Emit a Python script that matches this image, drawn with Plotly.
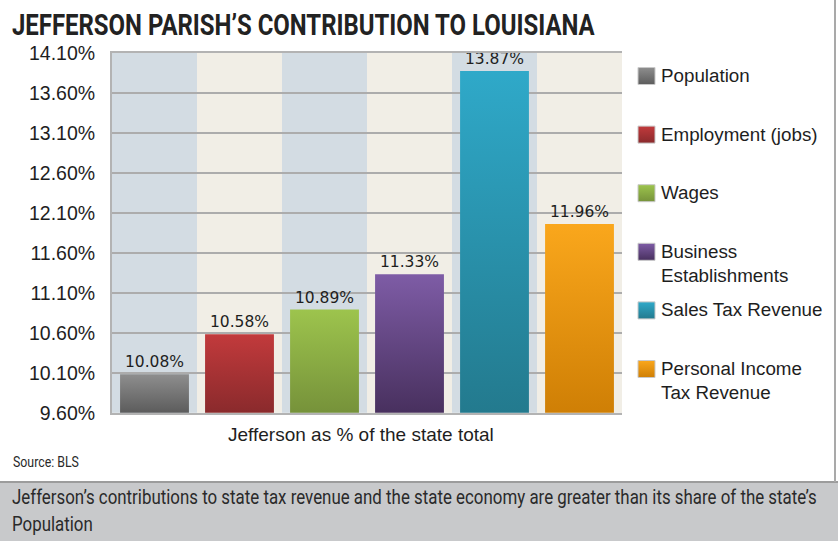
import json
import plotly.graph_objects as go

# Jefferson Parish as a share of the Louisiana state total (percent)
categories = ["Population", "Employment (jobs)", "Wages", "Business Establishments",
              "Sales Tax Revenue", "Personal Income Tax Revenue"]
legend_labels = ["Population", "Employment (jobs)", "Wages", "Business<br>Establishments",
                 "Sales Tax Revenue", "Personal Income<br>Tax Revenue"]
shares = [10.08, 10.58, 10.89, 11.33, 13.87, 11.96]
y_ticks = [9.60, 10.10, 10.60, 11.10, 11.60, 12.10, 12.60, 13.10, 13.60, 14.10]

# bar fills: flat colour plus the light-to-dark shading used on screen
bar_colors = ["#757575", "#a83234", "#8aad44", "#644784", "#2a92ad", "#e8950f"]
shade_top = ["#8e8e8e", "#c23a3c", "#9dc44d", "#7e5ca6", "#2fa9c9", "#faa71c"]
shade_bottom = ["#5c5c5c", "#8a2a2c", "#76923a", "#48305e", "#237a8e", "#cf7f05"]

W, H = 838, 541
GOTHIC = "Roboto, Liberation Sans, sans-serif"
PLAIN = "Liberation Sans, Arial, sans-serif"


def py(px):
    """Pixel row (from top) to paper y."""
    return 1 - px / H


def pxx(px):
    return px / W


fig = go.Figure()
positions = list(range(len(categories)))
fig.add_trace(go.Bar(
    x=positions,
    y=shares,
    width=0.81,
    marker=dict(color=bar_colors, line=dict(width=0)),
    text=shares,
    texttemplate="%{y:.2f}%",
    textposition="outside",
    textfont=dict(family="DejaVu Sans, Verdana, sans-serif", size=15.5, color="#1e1e1e"),
    cliponaxis=False,
    hovertext=categories,
    showlegend=False,
))

shapes = []
# alternating column bands behind the bars
for i in positions:
    shapes.append(dict(type="rect", xref="x", yref="y domain", x0=i - 0.5, x1=i + 0.5,
                       y0=0, y1=1, layer="below", line=dict(width=0),
                       fillcolor="#d3dce3" if i % 2 == 0 else "#f1eee6"))

# caption band and frame lines
shapes.append(dict(type="rect", xref="paper", yref="paper", x0=0, x1=1, y0=0, y1=py(482),
                   fillcolor="#c8c9cb", line=dict(width=0), layer="below"))
shapes.append(dict(type="line", xref="paper", yref="paper", x0=0, x1=1, y0=py(482), y1=py(482),
                   line=dict(color="#9c9c9c", width=2)))
shapes.append(dict(type="line", xref="paper", yref="paper", x0=pxx(835), x1=pxx(835),
                   y0=py(482), y1=1, line=dict(color="#a9a9a9", width=2)))

annotations = []
swatch_ids = []
# legend swatches and labels
for i, (lab, col) in enumerate(zip(legend_labels, bar_colors)):
    cy = 76 + 58.6 * i
    swatch_ids.append(len(shapes))
    shapes.append(dict(type="rect", xref="paper", yref="paper",
                       x0=pxx(638), x1=pxx(655), y0=py(cy + 8.5), y1=py(cy - 8.5),
                       fillcolor=col, line=dict(color="#c9c9c9", width=1)))
    annotations.append(dict(text=lab, xref="paper", yref="paper", x=pxx(659), y=py(cy - 13),
                            xanchor="left", yanchor="top", showarrow=False, align="left",
                            font=dict(family=PLAIN, size=18.8, color="#1e1e1e")))

n_legend = len(annotations)
annotations += [
    dict(text="JEFFERSON PARISH’S CONTRIBUTION TO LOUISIANA", xref="paper", yref="paper",
         x=pxx(10), y=py(24), xanchor="left", yanchor="middle", showarrow=False, align="left",
         font=dict(family=GOTHIC, size=30, color="#222222", weight="bold")),
    dict(text="Jefferson as % of the state total", xref="paper", yref="paper",
         x=pxx(361), y=py(434), xanchor="center", yanchor="middle", showarrow=False,
         font=dict(family=PLAIN, size=19, color="#1e1e1e")),
    dict(text="Source: BLS", xref="paper", yref="paper",
         x=pxx(11), y=py(462), xanchor="left", yanchor="middle", showarrow=False, align="left",
         font=dict(family=GOTHIC, size=15, color="#2a2a2a")),
    dict(text="Jefferson’s contributions to state tax revenue and the state economy are greater than its share of the state’s<br>Population",
         xref="paper", yref="paper", x=pxx(10), y=py(510), xanchor="left", yanchor="middle",
         showarrow=False, align="left",
         font=dict(family=GOTHIC, size=21, color="#2a2a2a")),
]

# the headline, source and caption are set in a condensed gothic: narrow them horizontally
squeeze = [[n_legend, 583], [n_legend + 2, 66], [n_legend + 3, 805]]
shades = [[t, b] for t, b in zip(shade_top, shade_bottom)]

post_js = """
var gd = document.getElementById('{plot_id}');
var squeeze = %s, shades = %s, swatches = %s;
var NS = 'http://www.w3.org/2000/svg';

squeeze.forEach(function(s) {
  var g = gd.querySelector('.annotation[data-index="' + s[0] + '"]');
  if (!g) return;
  var t = g.querySelector('text.annotation-text');
  var first = t.querySelector('tspan.line') || t;
  var f = s[1] / first.getComputedTextLength();
  var x0 = parseFloat(t.getAttribute('x')) || 0;
  var prev = t.getAttribute('transform') || '';
  t.setAttribute('transform', prev + ' translate(' + x0 + ',0) scale(' + f + ',1) translate(' + (-x0) + ',0)');
  var bg = g.querySelector('rect.bg');
  if (bg) bg.setAttribute('width', parseFloat(bg.getAttribute('width')) * f);
});

var defs = gd.querySelector('svg.main-svg defs');
function shade(id, c, units, y1, y2) {
  var lg = document.createElementNS(NS, 'linearGradient');
  lg.setAttribute('id', id);
  lg.setAttribute('gradientUnits', units);
  lg.setAttribute('x1', 0); lg.setAttribute('x2', 0);
  lg.setAttribute('y1', y1); lg.setAttribute('y2', y2);
  [[0, c[0]], [1, c[1]]].forEach(function(p) {
    var st = document.createElementNS(NS, 'stop');
    st.setAttribute('offset', p[0]);
    st.setAttribute('stop-color', p[1]);
    lg.appendChild(st);
  });
  defs.appendChild(lg);
}
var plotH = gd._fullLayout.yaxis._length;
gd.querySelectorAll('.barlayer .point path').forEach(function(p, i) {
  var bb = p.getBBox();
  shade('barshade' + i, shades[i], 'userSpaceOnUse', bb.y, Math.min(bb.y + bb.height, plotH));
  p.style.fill = 'url(#barshade' + i + ')';
});
swatches.forEach(function(k, i) {
  var p = gd.querySelector('.shapelayer path[data-index="' + k + '"]');
  if (!p) return;
  shade('swatchshade' + i, shades[i], 'objectBoundingBox', 0, 1);
  p.style.fill = 'url(#swatchshade' + i + ')';
});
""" % (json.dumps(squeeze), json.dumps(shades), json.dumps(swatch_ids))

fig.update_layout(
    width=W, height=H,
    margin=dict(l=0, r=0, t=0, b=0, autoexpand=False),
    paper_bgcolor="white",
    plot_bgcolor="#e6e6e6",
    shapes=shapes,
    annotations=annotations,
    xaxis=dict(domain=[pxx(112), pxx(622)], range=[-0.5, 5.5], showticklabels=False,
               showgrid=False, zeroline=False, showline=True, mirror=True,
               linecolor="#b3b3b3", linewidth=2, fixedrange=True, automargin=False),
    yaxis=dict(domain=[py(412.7), py(52.7)], range=[9.6, 14.1],
               tickvals=y_ticks, ticktext=[f"{v:.2f}%" for v in y_ticks],
               tickfont=dict(family=PLAIN, size=19.5, color="#1e1e1e"),
               ticklabelstandoff=11, automargin=False,
               showgrid=True, gridcolor="#acacac", gridwidth=1.5, zeroline=False,
               showline=True, linecolor="#b3b3b3", linewidth=2, fixedrange=True),
)

fig.write_html("out.html", post_script=post_js)
